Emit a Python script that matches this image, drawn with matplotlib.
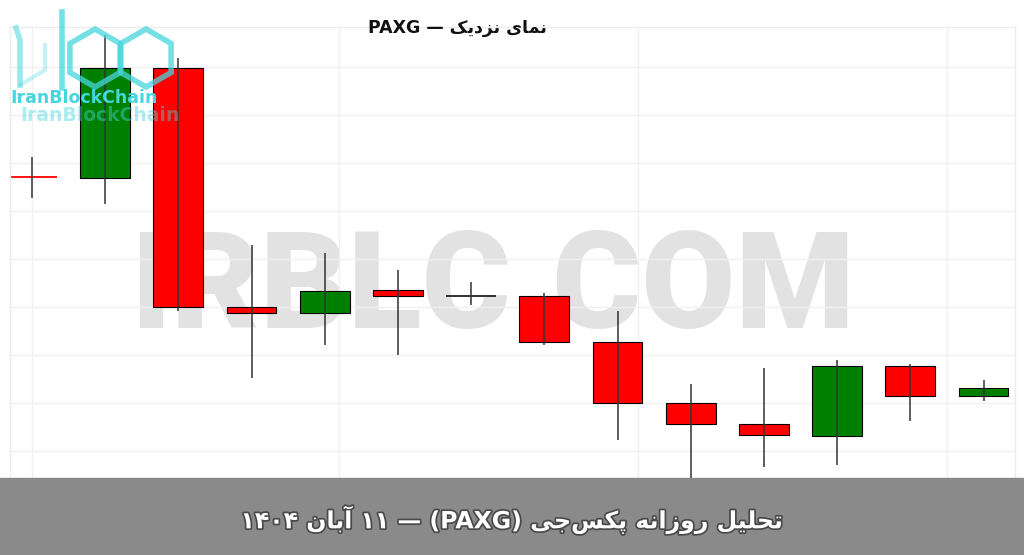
import re
import numpy as np
import matplotlib
matplotlib.use('Agg')
from matplotlib import pyplot as plt
from matplotlib import patheffects as pe
from matplotlib.patches import RegularPolygon

# candles (price)
opens  = [4009.0, 4008.5, 4063.5, 3944.0, 3941.0, 3952.5, 3949.5, 3949.5, 3926.5, 3896.0, 3885.5, 3879.5, 3914.5, 3899.5]
closes = [4008.9, 4063.5, 3944.0, 3941.0, 3952.0, 3949.5, 3949.5, 3926.5, 3896.0, 3885.5, 3880.0, 3914.5, 3899.5, 3903.5]
highs  = [4019.0, 4080.0, 4068.5, 3975.0, 3971.0, 3962.5, 3956.5, 3951.0, 3942.0, 3905.5, 3913.5, 3917.5, 3915.5, 3907.5]
lows   = [3998.5, 3995.5, 3942.0, 3908.5, 3925.0, 3920.0, 3945.0, 3925.0, 3877.5, 3855.0, 3864.0, 3865.0, 3887.0, 3897.0]

grid_y = [3872, 3896, 3920, 3944, 3968, 3992, 4016, 4040, 4064]
grid_x = [0.0, 4.2, 8.28, 12.5]

title = 'نمای نزدیک — PAXG'
banner = 'تحلیل روزانه پکس\u200cجی (PAXG) — ۱۱ آبان ۱۴۰۴'

# minimal Persian shaping (matplotlib has no text shaping)
FORMS = {
    'ا': ('\uFE8D', '\uFE8E'), 'آ': ('\uFE81', '\uFE82'),
    'د': ('\uFEA9', '\uFEAA'), 'ر': ('\uFEAD', '\uFEAE'),
    'ز': ('\uFEAF', '\uFEB0'), 'و': ('\uFEED', '\uFEEE'),
    'ب': ('\uFE8F', '\uFE90', '\uFE91', '\uFE92'),
    'ت': ('\uFE95', '\uFE96', '\uFE97', '\uFE98'),
    'ج': ('\uFE9D', '\uFE9E', '\uFE9F', '\uFEA0'),
    'ح': ('\uFEA1', '\uFEA2', '\uFEA3', '\uFEA4'),
    'س': ('\uFEB1', '\uFEB2', '\uFEB3', '\uFEB4'),
    'ل': ('\uFEDD', '\uFEDE', '\uFEDF', '\uFEE0'),
    'م': ('\uFEE1', '\uFEE2', '\uFEE3', '\uFEE4'),
    'ن': ('\uFEE5', '\uFEE6', '\uFEE7', '\uFEE8'),
    'ه': ('\uFEE9', '\uFEEA', '\uFEEB', '\uFEEC'),
    'ی': ('\uFBFC', '\uFBFD', '\uFBFE', '\uFBFF'),
    'ک': ('\uFB8E', '\uFB8F', '\uFB90', '\uFB91'),
    'پ': ('\uFB56', '\uFB57', '\uFB58', '\uFB59'),
}

def rtl(text):
    out = []
    for i, ch in enumerate(text):
        if ch not in FORMS:
            if ch != '\u200c':
                out.append(ch)
            continue
        prev = text[i - 1] if i > 0 else ''
        nxt = text[i + 1] if i + 1 < len(text) else ''
        f = FORMS[ch]
        jp = prev in FORMS and len(FORMS[prev]) == 4
        jn = len(f) == 4 and nxt in FORMS
        if jp and jn:
            out.append(f[3])
        elif jp:
            out.append(f[1])
        elif jn:
            out.append(f[2])
        else:
            out.append(f[0])
    s = ''.join(out)[::-1]
    s = s.translate(str.maketrans('()', ')('))
    return re.sub(r'[A-Za-z0-9\u06F0-\u06F9]+', lambda m: m.group(0)[::-1], s)


fig = plt.figure(figsize=(10.24, 5.55), dpi=100)
ax = fig.add_axes([10 / 1024, 60 / 555, 1005 / 1024, 468 / 555])

x = np.arange(len(opens))
o = np.array(opens)
c = np.array(closes)
colors = np.where(c > o, '#008000', '#ff0000')

# watermark, behind the candles
ax.text(130 / 1024, 1 - 328 / 555, 'IRBLC.COM', transform=fig.transFigure,
        ha='left', va='baseline', fontsize=98, fontfamily='Roboto',
        fontweight='heavy', color='#e2e2e2', zorder=0.2)

body = np.abs(c - o)
solid = body > 0.5
ax.bar(x[solid], body[solid], bottom=np.minimum(o, c)[solid], width=0.68,
       color=colors[solid], edgecolor='black', linewidth=0.8, zorder=2)
for i in x[~solid]:
    col = '#ff0000' if c[i] < o[i] else '#222222'
    ax.hlines(o[i], i - 0.34, i + 0.34, color=col, linewidth=1.3, zorder=2)
ax.vlines(x, lows, highs, color='#333333', linewidth=1.1, zorder=3)

ax.set_xlim(-0.30, 13.43)
ax.set_ylim(3850, 4084)
ax.set_xticks(grid_x)
ax.set_yticks(grid_y)
ax.tick_params(length=0, labelbottom=False, labelleft=False)
ax.grid(True, color='#f0f0f0', linewidth=1.0, zorder=0)
ax.set_axisbelow(True)
for sp in ax.spines.values():
    sp.set_color('#ececec')
    sp.set_linewidth(1.0)

fig.text(457 / 1024, 1 - 28 / 555, rtl(title), ha='center', va='center',
         fontsize=12.5, fontweight='bold', fontfamily='DejaVu Sans', color='#111111')

# bottom banner
fig.patches.append(plt.Rectangle((0, 0), 1, 77 / 555, transform=fig.transFigure,
                                 color='#8a8a8a', zorder=5))
fig.text(512 / 1024, 35 / 555, rtl(banner), ha='center', va='center',
         fontsize=17, fontweight='bold', fontfamily='DejaVu Sans', color='white', zorder=6,
         path_effects=[pe.withStroke(linewidth=2.5, foreground='#4a4a4a')])

# logo (drawn in pixel units)
cyan = '#45d6de'
px = fig.dpi_scale_trans
def P(xp, yp):
    return (xp / 100, (555 - yp) / 100)
for cx, cy in [(95, 58), (146, 58)]:
    fig.patches.append(RegularPolygon(P(cx, cy), 6, radius=0.29, transform=px,
                                      fill=False, edgecolor=cyan, linewidth=4,
                                      alpha=0.75, zorder=7))
fig.lines.append(plt.Line2D([0.62, 0.62], [(555 - 12) / 100, (555 - 88) / 100],
                            transform=px, color=cyan, lw=4, alpha=0.75, zorder=7))
fig.lines.append(plt.Line2D([0.16, 0.20, 0.20], [(555 - 28) / 100, (555 - 40) / 100, (555 - 85) / 100],
                            transform=px, color=cyan, lw=4, alpha=0.55, zorder=7))
fig.lines.append(plt.Line2D([0.20, 0.45, 0.45], [(555 - 85) / 100, (555 - 70) / 100, (555 - 45) / 100],
                            transform=px, color=cyan, lw=3, alpha=0.3, zorder=7))
fig.text(10 / 1024, 1 - 103 / 555, 'IranBlockChain', fontsize=12.5, fontweight='bold',
         color=cyan, va='baseline', ha='left', zorder=8)
fig.text(20 / 1024, 1 - 121 / 555, 'IranBlockChain', fontsize=13.5, fontweight='bold',
         color=cyan, alpha=0.45, va='baseline', ha='left', zorder=8)

fig.savefig('out.png', dpi=100)
